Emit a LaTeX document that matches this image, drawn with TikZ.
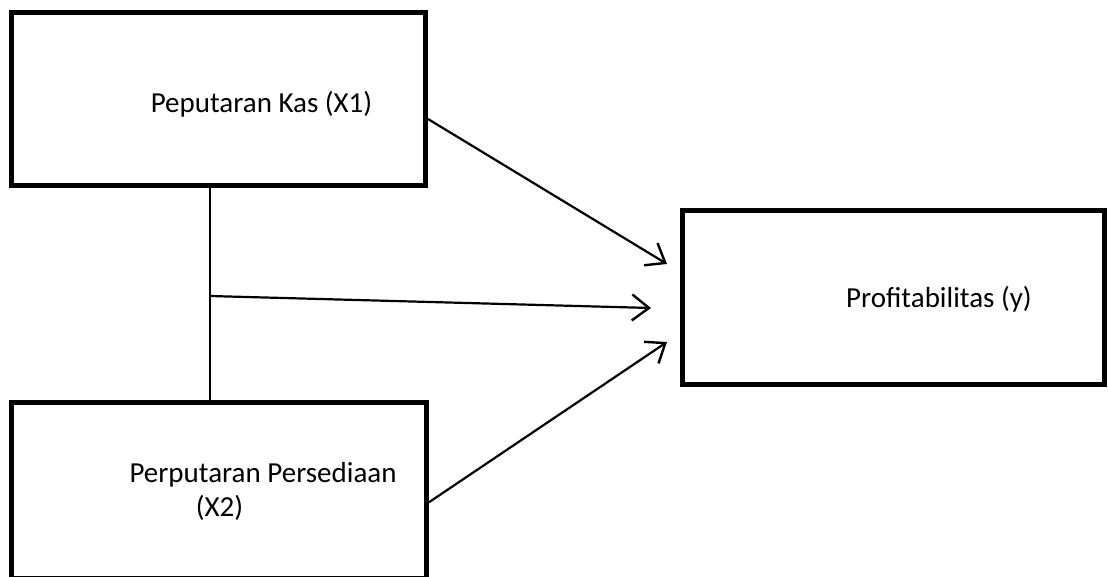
\documentclass[tikz,border=0pt]{standalone}
\usepackage{fontspec}
\setmainfont{Carlito}
\usetikzlibrary{arrows.meta}

\tikzset{
	kotak/.style={draw, line width=5pt, minimum width=#1, inner sep=0pt, outer sep=2.5pt},
	panah/.style={line width=2.2pt, -{Straight Barb[length=17pt, width=26pt, line width=2.4pt]}},
	teks/.style={anchor=base, font=\fontsize{29}{35}\selectfont}
}

\begin{document}
\begin{tikzpicture}[x=1pt, y=-1pt]
		\clip (0, 0) rectangle (1108, 576);
		
		\node[kotak=414pt, minimum height=173pt] (kas) at (218.5, 99) {};
		\node[kotak=415pt, minimum height=175.5pt] (sedia) at (219, 490.25) {};
		\node[kotak=422pt, minimum height=174pt] (profit) at (893.5, 297.5) {};
		
		\node[teks] (lkas) at (261.5, 112) {Peputaran Kas (X1)};
		\node[teks] (lsedia) at (263, 482) {Perputaran Persediaan};
		\node[teks] (lsedia2) at (219.5, 516) {(X2)};
		\node[teks] (lprofit) at (939, 307) {Profitabilitas (y)};
		
		\coordinate (cabang) at (210, 296);
		\coordinate (ujung1) at (667, 264);
		\coordinate (ujung2) at (651, 308);
		\coordinate (ujung3) at (667, 342);
		
		\draw[line width=2pt] (kas.south -| cabang) -- (sedia.north -| cabang);
		\draw[panah] ([yshift=-20pt]kas.east) -- (ujung1);
		\draw[panah] (cabang) -- (ujung2);
		\draw[panah] ([yshift=-12pt]sedia.east) -- (ujung3);
	\end{tikzpicture}
\end{document}
